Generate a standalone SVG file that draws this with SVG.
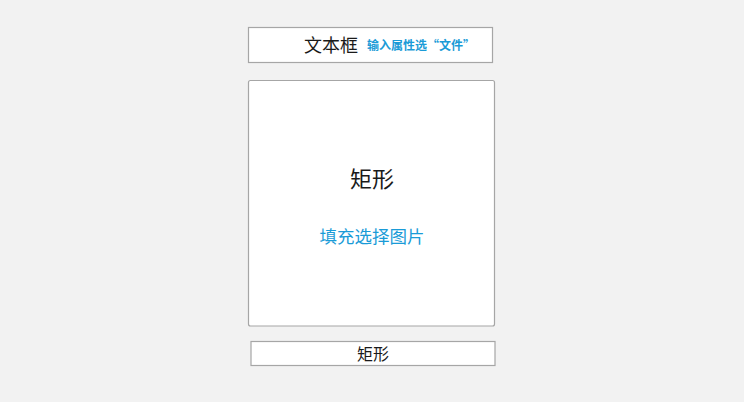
<svg xmlns="http://www.w3.org/2000/svg" width="744" height="402" viewBox="0 0 744 402">
<style>
.box{fill:#ffffff;stroke:#a6a6a6;stroke-width:1.2}
.t{font-family:"Noto Sans CJK SC","Noto Sans",sans-serif;fill:#1a1a1a}
.b{font-family:"Noto Sans CJK SC","Noto Sans",sans-serif;fill:#1a9bd7}
</style>
<rect width="744" height="402" fill="#f2f2f2"/>
<g id="textbox">
<rect class="box" x="248.5" y="27.5" width="244" height="35"/>
<text class="t" x="331" y="52" font-size="18" text-anchor="middle">文本框</text>
<text class="b" x="367" y="50" font-size="12" font-weight="bold">输入属性选“文件”</text>
</g>
<g id="rect-main">
<rect class="box" x="248.5" y="80.5" width="246" height="245.5" rx="2"/>
<text class="t" x="372" y="187" font-size="22" text-anchor="middle">矩形</text>
<text class="b" x="372" y="243" font-size="17.5" text-anchor="middle">填充选择图片</text>
</g>
<g id="rect-bottom">
<rect class="box" x="251" y="341.5" width="244" height="24"/>
<text class="t" x="373" y="360" font-size="16" text-anchor="middle">矩形</text>
</g>
<g id="connectors"></g>
</svg>
